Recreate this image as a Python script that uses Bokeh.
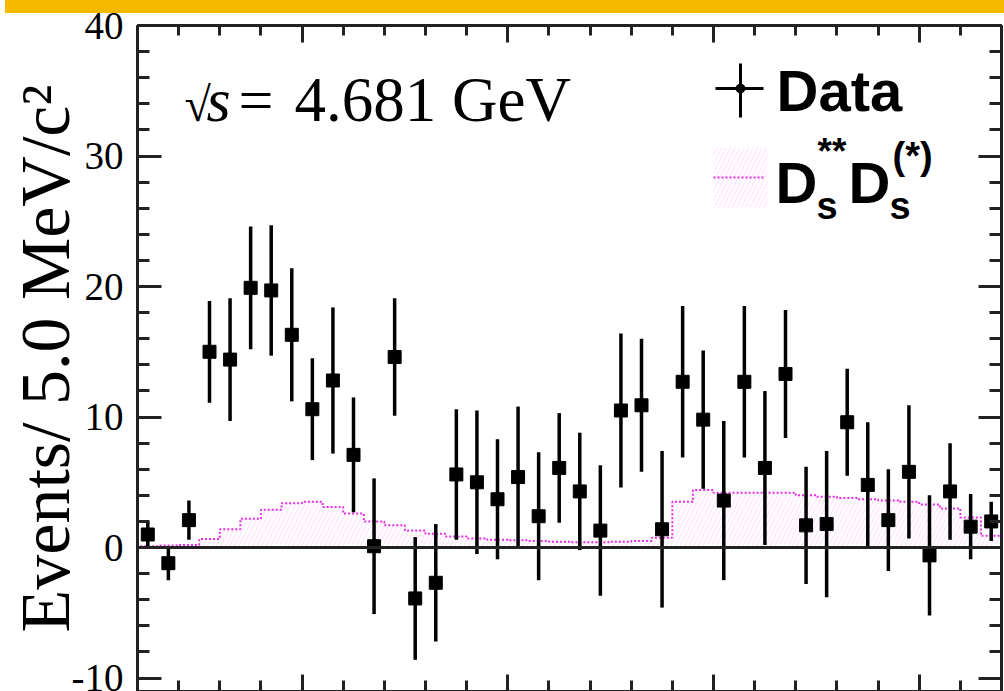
import numpy as np
from bokeh.plotting import figure
from bokeh.models import (Range1d, LinearAxis, SingleIntervalTicker, Label, Span,
                          ColumnDataSource)
from bokeh.embed import file_html
from bokeh.resources import INLINE

# ---------------- data (42 bins of 5 MeV/c^2) ----------------
x_min, x_max = 2110.0, 2320.0
bin_width = 5.0
y_min, y_max = -11.03, 40.0

data_counts = [1.0, -1.2, 2.1, 15.0, 14.4, 19.9, 19.7, 16.3, 10.6, 12.8,
               7.1, 0.1, 14.6, -3.9, -2.7, 5.6, 5.0, 3.7, 5.4, 2.4,
               6.1, 4.3, 1.3, 10.5, 10.9, 1.4, 12.7, 9.8, 3.6, 12.7,
               6.1, 13.3, 1.7, 1.8, 9.6, 4.8, 2.1, 5.8, -0.6, 4.3,
               1.6, 2.0]
data_errors = [1.0, 1.3, 1.5, 3.9, 4.7, 4.7, 5.0, 5.1, 3.9, 5.6,
               4.4, 5.2, 4.5, 4.7, 4.5, 5.0, 5.5, 4.6, 5.4, 4.9,
               4.2, 4.5, 5.0, 5.9, 5.1, 6.0, 5.8, 5.3, 6.1, 5.8,
               5.9, 4.9, 4.5, 5.6, 4.1, 4.8, 3.9, 5.1, 4.6, 3.7,
               2.5, 1.5]
dsds_hist = [0.1, 0.15, 0.2, 0.65, 1.4, 2.2, 2.9, 3.4, 3.5, 3.1,
             2.6, 2.0, 1.7, 1.3, 1.05, 0.85, 0.7, 0.6, 0.55, 0.5,
             0.45, 0.4, 0.4, 0.45, 0.5, 0.75, 3.5, 4.4, 4.2, 4.2,
             4.2, 4.2, 4.0, 3.9, 3.8, 3.7, 3.6, 3.5, 3.3, 3.0,
             2.3, 0.9]
x_major_ticks = [2150, 2200, 2250, 2300]
y_major_ticks = [-10, 0, 10, 20, 30, 40]
y_title = "Events/ 5.0 MeV/c\u00b2"

# ---------------- page geometry ----------------
PAGE_W, PAGE_H = 1004, 691
BAND_H = 13
FRAME_LEFT, FRAME_RIGHT = 137, 1001
FRAME_TOP, FRAME_BOTTOM = 25, 691


def px2x(px):
    return x_min + (px - FRAME_LEFT) * (x_max - x_min) / (FRAME_RIGHT - FRAME_LEFT)


def py2y(py):
    return y_max - (py - FRAME_TOP) * (y_max - y_min) / (FRAME_BOTTOM - FRAME_TOP)


n = len(data_counts)
edges = x_min + bin_width * np.arange(n + 1)
centers = edges[:-1] + bin_width / 2
vals = np.array(data_counts)
errs = np.array(data_errors)
hist = np.array(dsds_hist)

src = ColumnDataSource(dict(x=centers, y=vals, lo=vals - errs, hi=vals + errs))
hsrc = ColumnDataSource(dict(left=edges[:-1], right=edges[1:], top=hist,
                             bottom=np.zeros(n)))

# step outline of the histogram (ROOT style, starting from the frame bottom)
sx = [edges[0]]
sy = [y_min]
for i in range(n):
    sx += [edges[i], edges[i + 1]]
    sy += [hist[i], hist[i]]
sx.append(edges[-1])
sy.append(y_min)

band_css = ("linear-gradient(#F6B900, #F6B900) 5px 0px / %dpx %dpx no-repeat, white"
            % (PAGE_W - 5, BAND_H))

p = figure(width=PAGE_W, height=PAGE_H, output_backend="svg", toolbar_location=None,
           x_range=Range1d(x_min, x_max), y_range=Range1d(y_min, y_max),
           min_border_left=FRAME_LEFT, min_border_right=PAGE_W - FRAME_RIGHT,
           min_border_top=FRAME_TOP, min_border_bottom=0,
           outline_line_color=None, background_fill_color="white",
           border_fill_color=None, margin=(0, 0, 0, 0),
           styles={"background": band_css})
p.grid.visible = False

AX = "#222222"


def style_axis(ax, major_in, minor_in, blank_ticks=None):
    ax.major_tick_in = major_in
    ax.major_tick_out = 0
    ax.minor_tick_in = minor_in
    ax.minor_tick_out = 0
    ax.axis_line_width = 3
    ax.axis_line_color = AX
    ax.major_tick_line_width = 3
    ax.minor_tick_line_width = 3
    ax.major_tick_line_color = AX
    ax.minor_tick_line_color = AX
    if blank_ticks is not None:
        ax.major_label_overrides = {t: "" for t in blank_ticks}
        ax.major_label_text_font_size = "1px"
        ax.major_label_standoff = 0


xt = SingleIntervalTicker(interval=50, num_minor_ticks=5)
yt = SingleIntervalTicker(interval=10, num_minor_ticks=5)

p.xaxis[0].ticker = xt
style_axis(p.xaxis[0], 17, 11, blank_ticks=x_major_ticks)

ya = p.yaxis[0]
ya.ticker = yt
style_axis(ya, 24, 12)
ya.major_label_text_font = "Liberation Serif"
ya.major_label_text_font_size = "39px"
ya.major_label_text_color = "black"
ya.major_label_standoff = 14
ya.major_label_overrides = {-10: "-10"}
ya.axis_label = y_title
ya.axis_label_text_font = "Liberation Serif"
ya.axis_label_text_font_size = "70px"
ya.axis_label_text_font_style = "normal"
ya.axis_label_text_color = "black"
ya.axis_label_standoff = -15

top_ax = LinearAxis(ticker=xt)
style_axis(top_ax, 17, 10, blank_ticks=x_major_ticks)
p.add_layout(top_ax, "above")
right_ax = LinearAxis(ticker=yt)
style_axis(right_ax, 23, 12, blank_ticks=y_major_ticks)
p.add_layout(right_ax, "right")

# hatched Ds** Ds(*) component
MAG = "#E62EE6"
p.quad(left="left", right="right", top="top", bottom="bottom", source=hsrc,
       fill_alpha=0, line_alpha=0, hatch_pattern="/", hatch_color="#FF66FF",
       hatch_alpha=0.22, hatch_scale=9, hatch_weight=1)
p.line(sx, sy, line_color=MAG, line_width=2, line_dash="2 2")

p.add_layout(Span(location=0, dimension="width", line_color=AX, line_width=3))

# data points
p.segment(x0="x", y0="lo", x1="x", y1="hi", source=src, line_color="black",
          line_width=3.5)
p.scatter(x="x", y="y", source=src, marker="square", size=13, color="black")

# ---------------- legend ----------------
lx0, lx1, lxc = px2x(715), px2x(763), px2x(740)
p.segment(x0=[lx0, lxc], y0=[py2y(88), py2y(63)], x1=[lx1, lxc], y1=[py2y(88), py2y(117)],
          line_color="black", line_width=3)
p.scatter(x=[lxc], y=[py2y(88)], marker="circle", size=9, color="black")
p.quad(left=[px2x(713)], right=[px2x(767)], top=[py2y(147)], bottom=[py2y(207)],
       fill_alpha=0, line_alpha=0, hatch_pattern="/", hatch_color="#FF66FF",
       hatch_alpha=0.22, hatch_scale=9, hatch_weight=1)
p.line([px2x(713), px2x(765)], [py2y(177), py2y(177)], line_color=MAG, line_width=2,
       line_dash="2 2")

BASE_SHIFT = 0.365   # measured offset of the label anchor vs. the glyph baseline (em)


def lab(text, px, py, size, font="Liberation Sans", style="bold"):
    p.add_layout(Label(x=px2x(px), y=py2y(py - BASE_SHIFT * size), text=text,
                       text_font=font, text_font_size=f"{size}px",
                       text_font_style=style, text_color="black",
                       text_align="left", text_baseline="alphabetic"))


lab("Data", 776, 111, 58)
lab("D", 775, 203, 58)
lab("s", 816, 219, 38)
lab("**", 817, 165, 37)
lab("D", 848, 203, 58)
lab("s", 889, 219, 38)
lab("(*)", 892, 169, 38)

# sqrt(s) = 4.681 GeV
lab("\u221a", 184, 122, 48, font="Liberation Serif", style="normal")
lab("s", 206, 122, 62, font="Liberation Serif", style="italic")
lab("=", 238, 122, 62, font="Liberation Serif", style="normal")
lab("4.681 GeV", 294, 122, 63, font="Liberation Serif", style="normal")

open("out.html", "w").write(file_html(p, INLINE))
